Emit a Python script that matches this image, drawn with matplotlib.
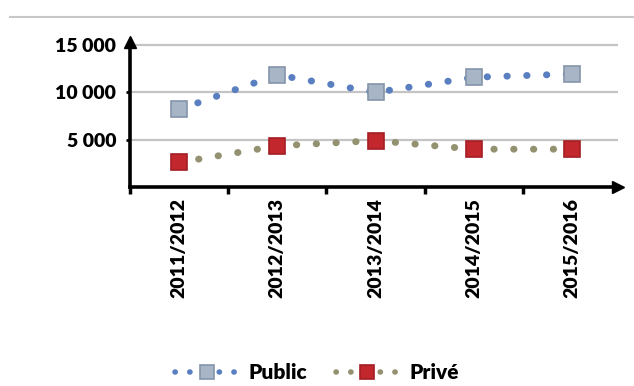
import matplotlib
matplotlib.use("Agg")
import matplotlib.pyplot as plt
from matplotlib.lines import Line2D

# Data
years = ["2011/2012", "2012/2013", "2013/2014", "2014/2015", "2015/2016"]
public = [8200, 11850, 10000, 11600, 11950]
prive = [2600, 4350, 4900, 4000, 4000]
y_ticks = [5000, 10000, 15000]

FONT = ["Lato", "DejaVu Sans"]
plt.rcParams["font.family"] = FONT

fig = plt.figure(figsize=(6.34, 3.86), dpi=100)
ax = fig.add_axes([0.205, 0.5155, 0.77, 0.375])

x = [i + 0.5 for i in range(len(years))]
dots = (0, (0.05, 2.8))

pub_style = dict(color="#5a7fc0", lw=5, linestyle=dots, dash_capstyle="round",
                 marker="s", ms=12, mfc="#a7b5c7", mec="#8595aa", mew=1.2)
pri_style = dict(color="#939170", lw=5, linestyle=dots, dash_capstyle="round",
                 marker="s", ms=12, mfc="#c1272d", mec="#a31f25", mew=1.2)

ax.plot(x, public, zorder=3, **pub_style)
ax.plot(x, prive, zorder=3, **pri_style)

ax.set_xlim(0, 4.97)
ax.set_ylim(0, 15300)

for v in y_ticks:
    ax.axhline(v, color="#c4c4c4", lw=1.6, zorder=1)

ax.set_yticks(y_ticks)
ax.set_yticklabels([f"{v:,}".replace(",", " ") for v in y_ticks],
                   fontsize=14, fontweight="heavy")
ax.set_xticks(range(len(years)))
ax.set_xticklabels([])
ax.set_xticks(x, minor=True)
ax.set_xticklabels(years, minor=True, rotation=90, fontsize=14, fontweight="heavy")
ax.tick_params(axis="x", which="major", length=5, width=2.5, direction="out")
ax.tick_params(axis="x", which="minor", length=0, pad=8)
ax.tick_params(axis="y", length=3, width=2, pad=7)

for s in ["top", "right"]:
    ax.spines[s].set_visible(False)
for s in ["left", "bottom"]:
    ax.spines[s].set_linewidth(2.6)
    ax.spines[s].set_color("black")

# arrow heads on the axes
ax.plot(1, 0, ">", color="black", ms=8, transform=ax.transAxes, clip_on=False)
ax.plot(0, 1, "^", color="black", ms=8, transform=ax.transAxes, clip_on=False)

# grey rule at the top of the picture
fig.add_artist(Line2D([0.015, 1.0], [0.956, 0.956], color="#c8c8c8", lw=1.5))

leg_pub = dict(pub_style, lw=4, ms=10, linestyle=(0, (0.05, 2.6)))
leg_pri = dict(pri_style, lw=4, ms=10, linestyle=(0, (0.05, 2.6)))
handles = [Line2D([0], [0], **leg_pub), Line2D([0], [0], **leg_pri)]
fig.legend(handles, ["Public", "Privé"], loc="center", bbox_to_anchor=(0.5, 0.035),
           ncol=2, frameon=False, handlelength=3.0, handletextpad=0.5,
           columnspacing=1.4,
           prop={"family": FONT, "weight": "heavy", "size": 15})

fig.savefig("out.png", dpi=100)
